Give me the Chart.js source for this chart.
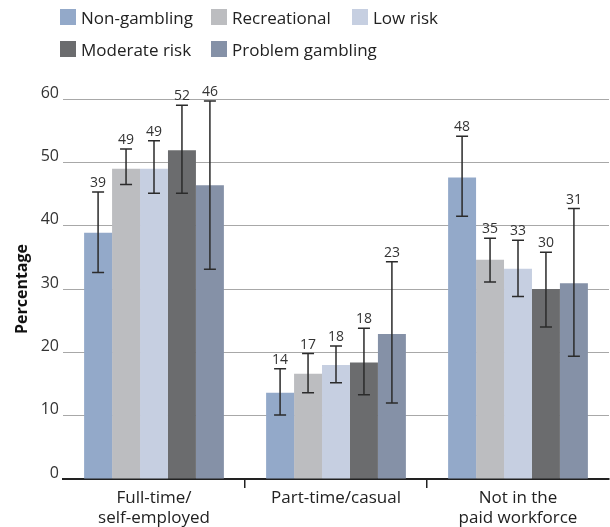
<!DOCTYPE html>
<html>
<head>
<meta charset="utf-8">
<script src="https://cdn.jsdelivr.net/npm/chart.js@4"></script>
<style>
  body { margin: 0; background: #fff; }
  #wrap { position: relative; width: 610px; height: 527px; }
  #legend {
    position: absolute; top: 9px; left: 60px;
    display: grid; grid-template-columns: 151px 141px auto;
    row-gap: 16px;
    font-family: "Open Sans", sans-serif; font-size: 17px; color: #222;
  }
  .legend-item { display: flex; align-items: center; height: 16px; white-space: nowrap; }
  .legend-box { flex: 0 0 16px; width: 16px; height: 16px; margin-right: 5px; }
</style>
</head>
<body>
<div id="wrap">
  <canvas id="chart" width="610" height="527"></canvas>
  <div id="legend"></div>
</div>
<script>
// ---------------- DATA ----------------
const categories = [["Full-time/", "self-employed"], "Part-time/casual", ["Not in the", "paid workforce"]];
const seriesNames = ["Non-gambling", "Recreational", "Low risk", "Moderate risk", "Problem gambling"];
const seriesColors = ["#93a9c9", "#bcbdc0", "#c6cfe1", "#6b6c6e", "#8591a7"];

const nonGambling = [38.9, 13.6, 47.6];
const recreational = [49.0, 16.6, 34.6];
const lowRisk = [49.0, 18.0, 33.2];
const moderateRisk = [51.9, 18.4, 30.0];
const problemGambling = [46.4, 22.9, 30.9];

// 95% confidence intervals
const nonGamblingLow = [32.6, 10.1, 41.5];
const nonGamblingHigh = [45.3, 17.4, 54.1];
const recreationalLow = [46.5, 13.6, 31.1];
const recreationalHigh = [52.1, 19.8, 38.0];
const lowRiskLow = [45.1, 15.2, 28.8];
const lowRiskHigh = [53.4, 21.0, 37.7];
const moderateRiskLow = [45.1, 13.3, 24.0];
const moderateRiskHigh = [59.0, 23.8, 35.8];
const problemGamblingLow = [33.1, 12.0, 19.4];
const problemGamblingHigh = [59.7, 34.3, 42.7];

const yTicks = [0, 10, 20, 30, 40, 50, 60];

const seriesValues = [nonGambling, recreational, lowRisk, moderateRisk, problemGambling];
const seriesLow = [nonGamblingLow, recreationalLow, lowRiskLow, moderateRiskLow, problemGamblingLow];
const seriesHigh = [nonGamblingHigh, recreationalHigh, lowRiskHigh, moderateRiskHigh, problemGamblingHigh];

const FONT = "'Open Sans', sans-serif";

// ---------------- ERROR BARS + VALUE LABELS ----------------
const errorBars = {
  id: "errorBars",
  afterDatasetsDraw(chart) {
    const ctx = chart.ctx;
    const y = chart.scales.y;
    ctx.save();
    chart.data.datasets.forEach((ds, i) => {
      const meta = chart.getDatasetMeta(i);
      meta.data.forEach((bar, j) => {
        const top = y.getPixelForValue(seriesHigh[i][j]);
        const bottom = y.getPixelForValue(seriesLow[i][j]);
        ctx.strokeStyle = "#2b2b2b";
        ctx.lineWidth = 1.5;
        ctx.beginPath();
        ctx.moveTo(bar.x, top);
        ctx.lineTo(bar.x, bottom);
        ctx.moveTo(bar.x - 6, top);
        ctx.lineTo(bar.x + 6, top);
        ctx.moveTo(bar.x - 6, bottom);
        ctx.lineTo(bar.x + 6, bottom);
        ctx.stroke();

        ctx.fillStyle = "#333";
        ctx.font = "14px " + FONT;
        ctx.textAlign = "center";
        ctx.textBaseline = "alphabetic";
        ctx.fillText(Math.round(ds.data[j]), bar.x, top - 5);
      });
    });
    ctx.restore();
  }
};

// ---------------- CHART ----------------
const chart = new Chart(document.getElementById("chart"), {
  type: "bar",
  data: {
    labels: categories,
    datasets: seriesNames.map((name, i) => ({
      label: name,
      data: seriesValues[i],
      backgroundColor: seriesColors[i],
      borderWidth: 0,
      categoryPercentage: 0.768,
      barPercentage: 1.0,
    })),
  },
  options: {
    responsive: false,
    animation: false,
    layout: { padding: { top: 99, right: 1, left: 0, bottom: 0 } },
    plugins: {
      legend: { display: false },
      tooltip: { enabled: false },
    },
    scales: {
      x: {
        afterFit(scale) { scale.height = 48; },
        grid: {
          offset: true,
          drawOnChartArea: false,
          tickLength: 9,
          lineWidth: 1.5,
          color: (c) => (c.type === "tick" && c.index > 0 ? "#222" : "rgba(0,0,0,0)"),
        },
        border: { display: true, color: "#222", width: 2 },
        ticks: { font: { family: FONT, size: 17 }, color: "#222", padding: 0, maxRotation: 0 },
      },
      y: {
        min: 0,
        max: 60,
        afterFit(scale) { scale.width = 63; },
        afterBuildTicks(scale) { scale.ticks = yTicks.map(v => ({ value: v })); },
        grid: { color: "#a8a8a8", lineWidth: 1, drawTicks: false },
        border: { display: false },
        ticks: { font: { family: FONT, size: 16 }, color: "#333", padding: 4, labelOffset: -6 },
        title: {
          display: true,
          text: "Percentage",
          font: { family: FONT, size: 16, weight: "bold" },
          color: "#111",
          padding: { top: 13, bottom: 0 },
        },
      },
    },
  },
  plugins: [errorBars],
});

// ---------------- LEGEND ----------------
const legendEl = document.getElementById("legend");
chart.data.datasets.forEach(ds => {
  const item = document.createElement("div");
  item.className = "legend-item";
  item.innerHTML = `<span class="legend-box" style="background:${ds.backgroundColor}"></span><span>${ds.label}</span>`;
  legendEl.appendChild(item);
});
</script>
</body>
</html>
